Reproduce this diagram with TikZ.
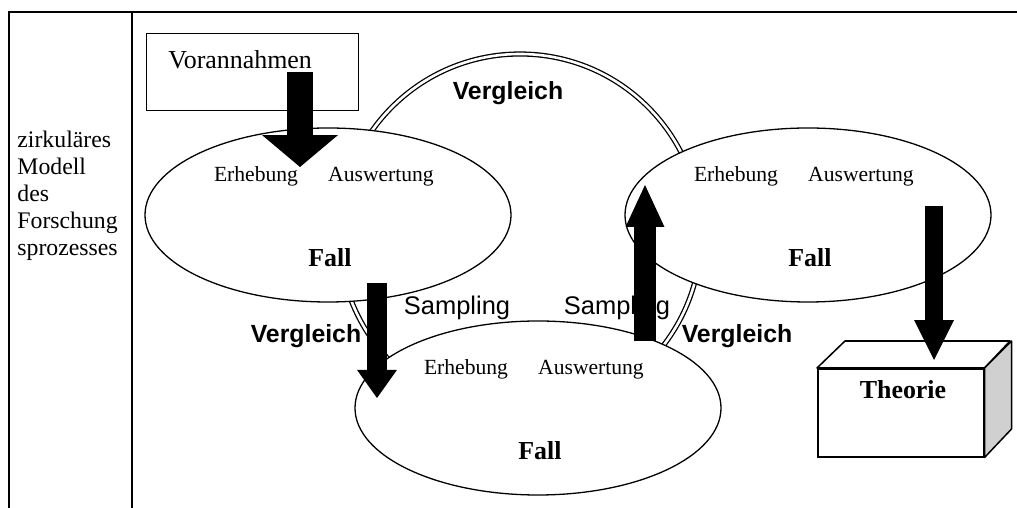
\documentclass[tikz,border=0pt]{standalone}
\usepackage{fontspec}
\setmainfont{Liberation Serif}
\newfontfamily\arialfont{Liberation Sans}
\usetikzlibrary{calc,arrows.meta,shapes.geometric}
\def\px{0.463pt}
\definecolor{seite}{HTML}{D0D0D0}
\tikzset{
  tabline/.style={draw=black, line width=0.9pt},
  kreisline/.style={draw=black, line width=0.6pt, double=white, double distance=1.2pt},
  fall/.style={ellipse, draw=black, fill=white, line width=0.6pt, minimum width=366*\px, minimum height=174*\px, inner sep=0},
  kasten/.style={draw=black, inner sep=0, anchor=north west},
  klein/.style={font=\fontsize{10}{12}\selectfont, anchor=base, inner sep=0},
  fett/.style={font=\fontsize{12}{14}\selectfont\bfseries, anchor=base, inner sep=0},
  vgl/.style={font=\arialfont\fontsize{11.5}{14}\selectfont\bfseries, anchor=base, inner sep=0},
  smp/.style={font=\arialfont\fontsize{11.8}{14}\selectfont, anchor=base, inner sep=0},
  pfeil/.style n args={3}{draw=black, line width=#1, -{Triangle[width=#2, length=#3, line width=0pt]}}
}

\begin{document}
\begin{tikzpicture}[x=0.463pt, y=-0.463pt]
  \useasboundingbox (0,0) rectangle (1017,508);

  % Tabelle
  \draw[tabline] (8,12) -- (1017,12);
  \draw[tabline] (9,11) -- (9,508);
  \draw[tabline] (132,11) -- (132,508);
  \node[anchor=north west, inner sep=0, align=left, font=\fontsize{11}{12.4}\selectfont] (spalte) at (17,131)
    {zirkuläres\\Modell\\des\\Forschung\\sprozesses};

  % Vergleichskreis
  \coordinate (mitte) at (520,235);
  \draw[kreisline] (mitte) circle[radius=181];

  % Faelle
  \node[fall] (e1) at (328,215) {};
  \node[fall] (e3) at (808,215) {};
  \node[fall] (e2) at (538,408) {};
  \foreach \e in {e1,e2,e3}{
    \node[klein] (\e-erh) at ($(\e)+(-72,-33)$) {Erhebung};
    \node[klein] (\e-ausw) at ($(\e)+(53,-33)$) {Auswertung};
    \node[fett] (\e-fall) at ($(\e)+(2,52)$) {Fall};
  }

  \node[vgl] (vgloben) at (508,100) {Vergleich};
  \node[vgl] (vgllinks) at (306,343) {Vergleich};
  \node[vgl] (vglrechts) at (737,343) {Vergleich};
  \node[smp] (smplinks) at (457,315) {Sampling};
  \node[smp] (smprechts) at (617,315) {Sampling};

  % Vorannahmen
  \node[kasten, line width=0.5pt, minimum width=212*\px, minimum height=77*\px] (vorbox) at (146,33) {};
  \node[anchor=base west, inner sep=0, font=\fontsize{12}{14}\selectfont] (vortext) at (168,69) {Vorannahmen};

  % Theorie
  \node[kasten, fill=white, line width=0.7pt, minimum width=166*\px, minimum height=88*\px] (theorie) at (817,368) {};
  \draw[line width=0.7pt, fill=white, line join=round] (theorie.north west) -- ++(28,-27) -- ++(165,0) -- (theorie.north east) -- cycle;
  \draw[line width=0.7pt, fill=seite, line join=round] (theorie.north east) -- ++(27,-27) -- ++(0,88) -- (theorie.south east) -- cycle;
  \node[fett] (theorietext) at (903,399) {Theorie};

  % Pfeile
  \coordinate (p1a) at (300,72);  \coordinate (p1b) at (300,167);
  \coordinate (p2a) at (377,283); \coordinate (p2b) at (377,398);
  \coordinate (p3a) at (645,341); \coordinate (p3b) at (645,185);
  \coordinate (p4a) at (934,206); \coordinate (p4b) at (934,360);
  \draw[pfeil={12pt}{35.2pt}{14.8pt}] (p1a) -- (p1b);
  \draw[pfeil={9.3pt}{18.5pt}{13pt}] (p2a) -- (p2b);
  \draw[pfeil={10.2pt}{18pt}{19.4pt}] (p3a) -- (p3b);
  \draw[pfeil={8.3pt}{18.5pt}{18.5pt}] (p4a) -- (p4b);
\end{tikzpicture}
\end{document}
